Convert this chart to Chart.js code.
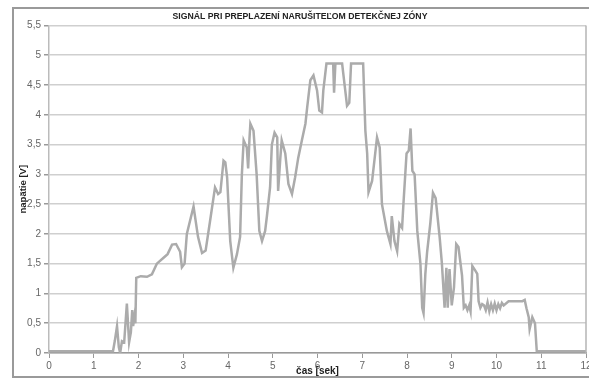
<!DOCTYPE html>
<html>
<head>
<meta charset="utf-8">
<script src="https://cdn.jsdelivr.net/npm/chart.js@4"></script>
<style>
    html, body { margin: 0; padding: 0; background: #fff; }
    #wrap { width: 589px; height: 385px; }
</style>
</head>
<body>
<div id="wrap"><canvas id="signalChart" width="589" height="385"></canvas></div>
<script>
// Signal data: time [s] and voltage [V]
const timeSec = [
    0, 1.43, 1.47, 1.52, 1.56, 1.59, 1.63, 1.68, 1.74, 1.79, 1.83, 1.86, 1.88, 1.91, 1.93, 1.95,
    2.05, 2.19, 2.3, 2.41, 2.56, 2.65, 2.75, 2.84, 2.93, 2.97, 3.03, 3.08, 3.23, 3.33, 3.42, 3.5,
    3.6, 3.71, 3.78, 3.83, 3.9, 3.94, 3.98, 4.05, 4.12, 4.2, 4.27, 4.31, 4.35, 4.42, 4.45, 4.48,
    4.5, 4.57, 4.64, 4.7, 4.76, 4.83, 4.87, 4.94, 4.98, 5.04, 5.1, 5.12, 5.17, 5.2, 5.28, 5.35,
    5.43, 5.5, 5.57, 5.65, 5.73, 5.77, 5.84, 5.91, 5.99, 6.04, 6.1, 6.13, 6.2, 6.35, 6.37, 6.4,
    6.55, 6.62, 6.66, 6.71, 6.75, 7.02, 7.07, 7.11, 7.14, 7.22, 7.33, 7.39, 7.44, 7.55, 7.63, 7.66,
    7.72, 7.78, 7.83, 7.89, 7.92, 7.99, 8.04, 8.08, 8.12, 8.17, 8.23, 8.3, 8.34, 8.37, 8.41, 8.45,
    8.52, 8.58, 8.64, 8.73, 8.78, 8.84, 8.88, 8.91, 8.95, 9.0, 9.05, 9.1, 9.15, 9.23, 9.27, 9.31,
    9.35, 9.39, 9.42, 9.46, 9.53, 9.57, 9.6, 9.64, 9.68, 9.72, 9.76, 9.8, 9.84, 9.88, 9.92, 9.96,
    10.0, 10.04, 10.08, 10.12, 10.16, 10.27, 10.58, 10.63, 10.67, 10.72, 10.74, 10.8, 10.86, 10.9, 12
];
const voltage = [
    0.03, 0.03, 0.2, 0.45, 0.1, 0.0, 0.2, 0.18, 0.83, 0.18, 0.35, 0.72, 0.45, 0.62, 0.5, 1.26,
    1.29, 1.28, 1.32, 1.5, 1.6, 1.66, 1.82, 1.83, 1.7, 1.44, 1.5, 2.0, 2.46, 1.95, 1.68, 1.72,
    2.22, 2.78, 2.67, 2.7, 3.23, 3.2, 2.95, 1.88, 1.43, 1.66, 1.95, 3.0, 3.57, 3.45, 3.1, 3.6,
    3.85, 3.73, 3.0, 2.05, 1.88, 2.05, 2.3, 2.78, 3.5, 3.7, 3.62, 2.72, 3.28, 3.57, 3.35, 2.84,
    2.67, 2.95, 3.28, 3.57, 3.85, 4.13, 4.58, 4.66, 4.41, 4.07, 4.04, 4.41, 4.86, 4.86, 4.37, 4.86,
    4.86, 4.41, 4.15, 4.2, 4.86, 4.86, 3.73, 3.35, 2.7, 2.89, 3.62, 3.45, 2.5, 2.05, 1.83, 2.3,
    1.88, 1.71, 2.17, 2.1, 2.5, 3.35, 3.4, 3.77, 3.06, 3.0, 2.05, 1.5, 0.76, 0.67, 1.33, 1.7,
    2.17, 2.69, 2.6, 1.94, 1.5, 0.76, 1.43, 0.76, 1.41, 0.8, 1.1, 1.83, 1.78, 1.3, 0.76, 0.8,
    0.72, 0.8, 0.7, 1.46, 1.38, 1.33, 0.87, 0.76, 0.82, 0.8, 0.72, 0.85, 0.7, 0.82, 0.72, 0.83,
    0.72, 0.82, 0.75, 0.84, 0.8, 0.87, 0.87, 0.89, 0.75, 0.6, 0.4, 0.6, 0.5, 0.03, 0.03
];
const xTicks = [0, 1, 2, 3, 4, 5, 6, 7, 8, 9, 10, 11, 12];
const yTicks = [0, 0.5, 1, 1.5, 2, 2.5, 3, 3.5, 4, 4.5, 5, 5.5];

const chartTitle = 'SIGNÁL PRI PREPLAZENÍ NARUŠITEĽOM DETEKČNEJ ZÓNY';
const xTitle = 'čas [sek]';
const yTitle = 'napätie [V]';

const points = timeSec.map((t, i) => ({ x: t, y: voltage[i] }));

// outer frame + plot area border, like the Excel chart
const framePlugin = {
    id: 'frame',
    beforeDraw(chart) {
        const ctx = chart.ctx;
        ctx.save();
        ctx.fillStyle = '#fff';
        ctx.fillRect(0, 0, chart.width, chart.height);
        ctx.strokeStyle = '#9a9a9a';
        ctx.lineWidth = 2;
        ctx.strokeRect(13, 8, chart.width, 369);
        ctx.restore();
    },
    afterDatasetsDraw(chart) {
        const a = chart.chartArea;
        const ctx = chart.ctx;
        ctx.save();
        ctx.strokeStyle = '#b5b5b5';
        ctx.lineWidth = 1.5;
        ctx.beginPath();
        ctx.moveTo(a.right, a.top);
        ctx.lineTo(a.right, a.bottom);
        ctx.stroke();
        ctx.restore();
    }
};

Chart.defaults.font.family = "'Liberation Sans', Arial, sans-serif";

new Chart(document.getElementById('signalChart'), {
    type: 'line',
    data: {
        datasets: [{
            data: points,
            borderColor: '#ababab',
            borderWidth: 2.5,
            pointRadius: 0,
            tension: 0,
            fill: false
        }]
    },
    options: {
        responsive: false,
        animation: false,
        devicePixelRatio: 1,
        layout: { padding: { top: 8, left: 14, right: 3, bottom: 8 } },
        plugins: {
            legend: { display: false },
            tooltip: { enabled: false },
            title: {
                display: true,
                text: chartTitle,
                color: '#222',
                font: { size: 8.7, weight: 'bold' },
                padding: { top: 3, bottom: 4 }
            }
        },
        scales: {
            x: {
                type: 'linear',
                min: 0,
                max: 12,
                afterBuildTicks: (s) => { s.ticks = xTicks.map(v => ({ value: v })); },
                afterFit: (s) => { s.height = 24; s.paddingLeft = 0; s.paddingRight = 0; },
                grid: { drawOnChartArea: false, color: '#999', tickLength: 5 },
                border: { color: '#999', width: 1.5 },
                ticks: { color: '#666', font: { size: 10 }, padding: 2, maxRotation: 0 },
                title: { display: true, text: xTitle, color: '#222', font: { size: 10, weight: 'bold' }, padding: { top: -4, bottom: 0 } }
            },
            y: {
                min: 0,
                max: 5.5,
                afterBuildTicks: (s) => { s.ticks = yTicks.map(v => ({ value: v })); },
                afterFit: (s) => { s.width = 35; },
                grid: { color: '#cfcfcf', lineWidth: 1.5, tickLength: 5, tickColor: '#999' },
                border: { color: '#bbb', width: 1.5 },
                ticks: {
                    color: '#666',
                    font: { size: 10 },
                    padding: 3,
                    callback: (v) => String(v).replace('.', ',')
                },
                title: { display: true, text: yTitle, color: '#222', font: { size: 9.5, weight: 'bold' }, padding: { top: 4, bottom: 0 } }
            }
        }
    },
    plugins: [framePlugin]
});
</script>
</body>
</html>
